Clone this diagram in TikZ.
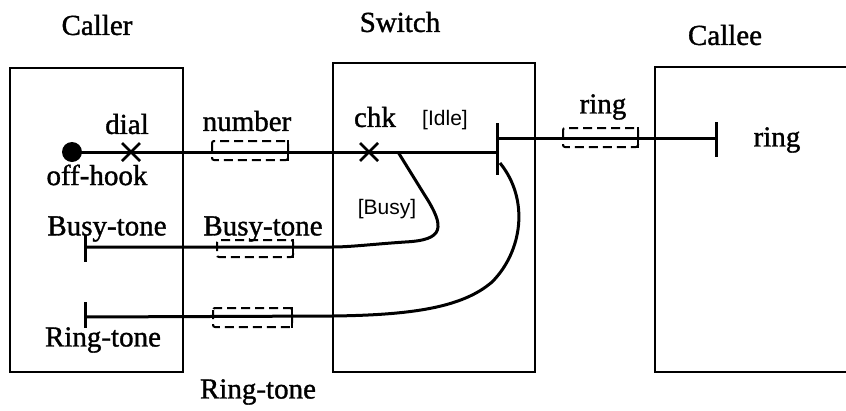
\documentclass[tikz,border=0pt]{standalone}
\usepackage{fontspec}
\setmainfont{Liberation Serif}[FakeBold=1.2]
\setsansfont{Liberation Sans}
\usetikzlibrary{calc}
\begin{document}
\begin{tikzpicture}[x=1pt,y=-1pt,
  lbl/.style={inner sep=0pt,font=\fontsize{29}{33}\selectfont},
  cond/.style={inner sep=0pt,font=\sffamily\fontsize{21}{25}\selectfont},
  boxline/.style={line width=2.4pt},
  sig/.style={line width=3pt},
  msg/.style={line width=2pt,dash pattern=on 9pt off 5pt,rounded corners=2pt},
  tick/.style={line width=2pt},
  cross/.style={line width=2.8pt}]
\useasboundingbox (0,0) rectangle (846,410);
% boxes
\node[boxline,draw,minimum width=173pt,minimum height=304pt,inner sep=0pt] (callerbox) at (96.5,220) {};
\node[boxline,draw,minimum width=202pt,minimum height=309pt,inner sep=0pt] (switchbox) at (434,217.5) {};
\draw[boxline] (849,67) -- (655,67) -- (655,372) -- (849,372);
% titles
\node[lbl] (tcaller) at (97,25) {Caller};
\node[lbl] (tswitch) at (400,22) {Switch};
\node[lbl] (tcallee) at (725,35) {Callee};
% key coordinates
\coordinate (dot) at (72,152);
\coordinate (dial) at (131,152);
\coordinate (chk) at (369,152);
\coordinate (sbarT) at (497,123);
\coordinate (sbarB) at (497,175);
\coordinate (sin) at (497,152);
\coordinate (sout) at (497,138);
\coordinate (cbarT) at (716,122);
\coordinate (cbarB) at (716,157);
\coordinate (cin) at (716,138);
\coordinate (busyT) at (85,235);
\coordinate (busyB) at (85,262);
\coordinate (busyin) at (85,247);
\coordinate (ringT) at (85,302);
\coordinate (ringB) at (85,328);
\coordinate (ringin) at (85,317);
\coordinate (busyfrom) at (398,152);
\coordinate (ringfrom) at (500,163);
% main signal line
\fill (dot) circle (10);
\draw[sig] (dot) -- (sin);
\draw[sig] (sbarT) -- (sbarB);
\draw[sig] (sout) -- (cin);
\draw[sig] (cbarT) -- (cbarB);
% crosses
\draw[cross] ($(dial)+(-9,-9)$) -- ($(dial)+(9,9)$) ($(dial)+(-9,9)$) -- ($(dial)+(9,-9)$);
\draw[cross] ($(chk)+(-9,-9)$) -- ($(chk)+(9,9)$) ($(chk)+(-9,9)$) -- ($(chk)+(9,-9)$);
% busy branch
\draw[sig] (busyfrom) -- (424,194) .. controls (446,228) and (444,240) .. (405,242)
  .. controls (375,244) and (350,247) .. (333,247) -- (busyin);
\draw[sig] (busyT) -- (busyB);
% ring-tone branch
\draw[sig] (ringfrom) .. controls (530,200) and (522,252) .. (492,282)
  .. controls (462,308) and (410,315) .. (333,316) -- (ringin);
\draw[sig] (ringT) -- (ringB);
% message boxes
\draw[msg] (212,141) rectangle (288,160); \draw[tick] (288,140) -- (288,161);
\draw[msg] (217,240) rectangle (293,257); \draw[tick] (293,239) -- (293,258);
\draw[msg] (213,308) rectangle (292,327); \draw[tick] (292,307) -- (292,328);
\draw[msg] (563,128) rectangle (638,147); \draw[tick] (638,127) -- (638,148);
% labels
\node[lbl] (ldial) at (127,124) {dial};
\node[lbl] (loffhook) at (97,175) {off-hook};
\node[lbl] (lnumber) at (247,121) {number};
\node[lbl] (lchk) at (375,117) {chk};
\node[cond] (lidle) at (445,120) {[Idle]};
\node[lbl] (lring) at (603,107) {ring};
\node[lbl] (lring2) at (777,140) {ring};
\node[cond] (lbusy) at (387,209) {[Busy]};
\node[lbl] (lbusytone) at (107,229) {Busy-tone};
\node[lbl] (lbusytone2) at (263,229) {Busy-tone};
\node[lbl] (lringtone) at (103,340) {Ring-tone};
\node[lbl] (lringtone2) at (258,392) {Ring-tone};
\end{tikzpicture}
\end{document}
